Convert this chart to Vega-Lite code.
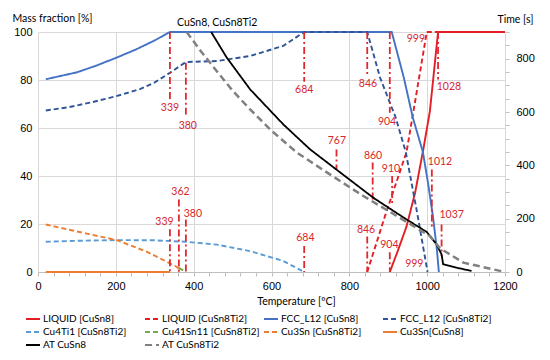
{
  "$schema": "https://vega.github.io/schema/vega-lite/v6.json",
  "width": 467,
  "height": 240,
  "autosize": {"type": "none"},
  "padding": {"left": 38, "top": 32, "right": 45, "bottom": 88},
  "background": "white",
  "config": {
    "view": {"stroke": null},
    "font": "Lato",
    "legend": {"labelFont": "Lato", "labelFontSize": 10, "labelColor": "#000", "gridAlign": "all"}
  },
  "title": {
    "text": "CuSn8, CuSn8Ti2",
    "anchor": "start",
    "frame": "group",
    "dx": 139,
    "dy": 19,
    "font": "Lato",
    "fontSize": 10.5,
    "fontWeight": "normal",
    "color": "#000"
  },
  "datasets": {
    "mass": [
      {"s": "LIQUID [CuSn8]", "T": 904, "v": 0},
      {"s": "LIQUID [CuSn8]", "T": 925, "v": 9},
      {"s": "LIQUID [CuSn8]", "T": 947, "v": 19},
      {"s": "LIQUID [CuSn8]", "T": 969, "v": 33},
      {"s": "LIQUID [CuSn8]", "T": 990, "v": 51},
      {"s": "LIQUID [CuSn8]", "T": 1007, "v": 67},
      {"s": "LIQUID [CuSn8]", "T": 1028, "v": 100},
      {"s": "LIQUID [CuSn8]", "T": 1200, "v": 100},
      {"s": "LIQUID [CuSn8Ti2]", "T": 846, "v": 0},
      {"s": "LIQUID [CuSn8Ti2]", "T": 891, "v": 23},
      {"s": "LIQUID [CuSn8Ti2]", "T": 947, "v": 50},
      {"s": "LIQUID [CuSn8Ti2]", "T": 971, "v": 73},
      {"s": "LIQUID [CuSn8Ti2]", "T": 999, "v": 100},
      {"s": "LIQUID [CuSn8Ti2]", "T": 1200, "v": 100},
      {"s": "FCC_L12 [CuSn8]", "T": 20, "v": 80.3},
      {"s": "FCC_L12 [CuSn8]", "T": 100, "v": 83.2},
      {"s": "FCC_L12 [CuSn8]", "T": 150, "v": 86},
      {"s": "FCC_L12 [CuSn8]", "T": 200, "v": 89.2},
      {"s": "FCC_L12 [CuSn8]", "T": 250, "v": 92.6},
      {"s": "FCC_L12 [CuSn8]", "T": 300, "v": 96.5},
      {"s": "FCC_L12 [CuSn8]", "T": 339, "v": 100},
      {"s": "FCC_L12 [CuSn8]", "T": 909, "v": 100},
      {"s": "FCC_L12 [CuSn8]", "T": 940, "v": 81},
      {"s": "FCC_L12 [CuSn8]", "T": 963, "v": 64.4},
      {"s": "FCC_L12 [CuSn8]", "T": 989, "v": 50},
      {"s": "FCC_L12 [CuSn8]", "T": 1002, "v": 37.3},
      {"s": "FCC_L12 [CuSn8]", "T": 1015, "v": 23},
      {"s": "FCC_L12 [CuSn8]", "T": 1025, "v": 9.4},
      {"s": "FCC_L12 [CuSn8]", "T": 1030, "v": 0},
      {"s": "FCC_L12 [CuSn8Ti2]", "T": 20, "v": 67.3},
      {"s": "FCC_L12 [CuSn8Ti2]", "T": 80, "v": 68.7},
      {"s": "FCC_L12 [CuSn8Ti2]", "T": 140, "v": 70.8},
      {"s": "FCC_L12 [CuSn8Ti2]", "T": 200, "v": 73.2},
      {"s": "FCC_L12 [CuSn8Ti2]", "T": 262, "v": 76.2},
      {"s": "FCC_L12 [CuSn8Ti2]", "T": 300, "v": 79},
      {"s": "FCC_L12 [CuSn8Ti2]", "T": 339, "v": 83},
      {"s": "FCC_L12 [CuSn8Ti2]", "T": 380, "v": 87.5},
      {"s": "FCC_L12 [CuSn8Ti2]", "T": 459, "v": 87.9},
      {"s": "FCC_L12 [CuSn8Ti2]", "T": 545, "v": 90},
      {"s": "FCC_L12 [CuSn8Ti2]", "T": 630, "v": 94.2},
      {"s": "FCC_L12 [CuSn8Ti2]", "T": 684, "v": 100},
      {"s": "FCC_L12 [CuSn8Ti2]", "T": 846, "v": 100},
      {"s": "FCC_L12 [CuSn8Ti2]", "T": 879, "v": 81},
      {"s": "FCC_L12 [CuSn8Ti2]", "T": 919, "v": 64.4},
      {"s": "FCC_L12 [CuSn8Ti2]", "T": 945, "v": 50},
      {"s": "FCC_L12 [CuSn8Ti2]", "T": 975, "v": 24},
      {"s": "FCC_L12 [CuSn8Ti2]", "T": 1001, "v": 0},
      {"s": "Cu4Ti1 [CuSn8Ti2]", "T": 20, "v": 12.6},
      {"s": "Cu4Ti1 [CuSn8Ti2]", "T": 100, "v": 13.0},
      {"s": "Cu4Ti1 [CuSn8Ti2]", "T": 200, "v": 13.3},
      {"s": "Cu4Ti1 [CuSn8Ti2]", "T": 300, "v": 13.2},
      {"s": "Cu4Ti1 [CuSn8Ti2]", "T": 380, "v": 12.6},
      {"s": "Cu4Ti1 [CuSn8Ti2]", "T": 460, "v": 11.4},
      {"s": "Cu4Ti1 [CuSn8Ti2]", "T": 545, "v": 8.7},
      {"s": "Cu4Ti1 [CuSn8Ti2]", "T": 630, "v": 4.6},
      {"s": "Cu4Ti1 [CuSn8Ti2]", "T": 684, "v": 0},
      {"s": "Cu41Sn11 [CuSn8Ti2]", "T": 362, "v": 1.7},
      {"s": "Cu41Sn11 [CuSn8Ti2]", "T": 380, "v": 0},
      {"s": "Cu3Sn [CuSn8Ti2]", "T": 20, "v": 19.8},
      {"s": "Cu3Sn [CuSn8Ti2]", "T": 125, "v": 16},
      {"s": "Cu3Sn [CuSn8Ti2]", "T": 202, "v": 13.3},
      {"s": "Cu3Sn [CuSn8Ti2]", "T": 279, "v": 8.5},
      {"s": "Cu3Sn [CuSn8Ti2]", "T": 356, "v": 2.2},
      {"s": "Cu3Sn [CuSn8Ti2]", "T": 362, "v": 1.5},
      {"s": "Cu3Sn [CuSn8Ti2]", "T": 362, "v": 0},
      {"s": "Cu3Sn[CuSn8]", "T": 20, "v": 0},
      {"s": "Cu3Sn[CuSn8]", "T": 339, "v": 0}
    ],
    "at": [
      {"s": "AT CuSn8", "T": 445, "t": 900},
      {"s": "AT CuSn8", "T": 485, "t": 804},
      {"s": "AT CuSn8", "T": 545, "t": 685},
      {"s": "AT CuSn8", "T": 630, "t": 554},
      {"s": "AT CuSn8", "T": 699, "t": 460},
      {"s": "AT CuSn8", "T": 750, "t": 403},
      {"s": "AT CuSn8", "T": 767, "t": 384},
      {"s": "AT CuSn8", "T": 862, "t": 278},
      {"s": "AT CuSn8", "T": 947, "t": 197},
      {"s": "AT CuSn8", "T": 999, "t": 150},
      {"s": "AT CuSn8", "T": 1024, "t": 104},
      {"s": "AT CuSn8", "T": 1037, "t": 66},
      {"s": "AT CuSn8", "T": 1041, "t": 29},
      {"s": "AT CuSn8", "T": 1076, "t": 16},
      {"s": "AT CuSn8", "T": 1114, "t": 4},
      {"s": "AT CuSn8Ti2", "T": 382, "t": 900},
      {"s": "AT CuSn8Ti2", "T": 420, "t": 825},
      {"s": "AT CuSn8Ti2", "T": 459, "t": 754},
      {"s": "AT CuSn8Ti2", "T": 500, "t": 680},
      {"s": "AT CuSn8Ti2", "T": 545, "t": 610},
      {"s": "AT CuSn8Ti2", "T": 600, "t": 530},
      {"s": "AT CuSn8Ti2", "T": 665, "t": 448},
      {"s": "AT CuSn8Ti2", "T": 750, "t": 366},
      {"s": "AT CuSn8Ti2", "T": 836, "t": 285},
      {"s": "AT CuSn8Ti2", "T": 922, "t": 210},
      {"s": "AT CuSn8Ti2", "T": 1007, "t": 135},
      {"s": "AT CuSn8Ti2", "T": 1033, "t": 89},
      {"s": "AT CuSn8Ti2", "T": 1093, "t": 35},
      {"s": "AT CuSn8Ti2", "T": 1200, "t": 0}
    ],
    "rules": [
      {"T": 339, "v": 100, "v2": 71},
      {"T": 380, "v": 87.2, "v2": 65.6},
      {"T": 684, "v": 100, "v2": 79.3},
      {"T": 846, "v": 100, "v2": 82.2},
      {"T": 904, "v": 100, "v2": 66.4},
      {"T": 1028, "v": 100, "v2": 80.2},
      {"T": 767, "v": 51, "v2": 42.5},
      {"T": 860, "v": 45.6, "v2": 30.2},
      {"T": 910, "v": 40, "v2": 28.2},
      {"T": 1012, "v": 42.7, "v2": 17.8},
      {"T": 1037, "v": 19.8, "v2": 6.7},
      {"T": 846, "v": 14.8, "v2": 0},
      {"T": 904, "v": 8.2, "v2": 0},
      {"T": 684, "v": 10.8, "v2": 0},
      {"T": 339, "v": 17.8, "v2": 0},
      {"T": 362, "v": 30.2, "v2": 0},
      {"T": 380, "v": 21.9, "v2": 0}
    ],
    "labels": [
      {"label": "339", "T": 339, "v": 68.4},
      {"label": "380", "T": 385, "v": 61},
      {"label": "684", "T": 684, "v": 76},
      {"label": "846", "T": 848, "v": 78.5},
      {"label": "904", "T": 897, "v": 62.3},
      {"label": "999", "T": 971, "v": 97.2},
      {"label": "1028", "T": 1056, "v": 77.2},
      {"label": "767", "T": 768, "v": 54.4},
      {"label": "860", "T": 861, "v": 48.3},
      {"label": "910", "T": 907, "v": 43},
      {"label": "1012", "T": 1033, "v": 45.8},
      {"label": "1037", "T": 1063, "v": 23.6},
      {"label": "846", "T": 843, "v": 17.3},
      {"label": "904", "T": 903, "v": 11.1},
      {"label": "999", "T": 967, "v": 3.5},
      {"label": "684", "T": 687, "v": 14.3},
      {"label": "339", "T": 325, "v": 21},
      {"label": "362", "T": 366, "v": 33.4},
      {"label": "380", "T": 398, "v": 24}
    ]
  },
  "encoding": {
    "x": {
      "field": "T",
      "type": "quantitative",
      "scale": {"domain": [0, 1200], "nice": false, "zero": false},
      "axis": {
        "values": [0,40,80,120,160,200,240,280,320,360,400,440,480,520,560,600,640,680,720,760,800,840,880,920,960,1000,1040,1080,1120,1160,1200],
        "format": "d",
        "labelExpr": "datum.value % 200 === 0 ? datum.label : ''",
        "labelOverlap": false,
        "labelFlush": false,
        "grid": true,
        "gridColor": "#d9d9d9",
        "gridOpacity": {"condition": {"test": "datum.value % 200 === 0", "value": 1}, "value": 0},
        "domainColor": "#bfbfbf",
        "tickColor": "#bfbfbf",
        "tickSize": 4,
        "labelPadding": 4,
        "labelFont": "Liberation Sans",
        "labelFontSize": 11,
        "labelColor": "#000",
        "title": "Temperature [ºC]",
        "titleFont": "Lato",
        "titleFontSize": 10.5,
        "titleFontWeight": "normal",
        "titleColor": "#000",
        "titleX": 258,
        "titleY": 29,
        "titleAlign": "center",
        "titleBaseline": "middle"
      }
    },
    "color": {
      "field": "s",
      "type": "nominal",
      "scale": {
        "domain": ["LIQUID [CuSn8]", "LIQUID [CuSn8Ti2]", "FCC_L12 [CuSn8]", "FCC_L12 [CuSn8Ti2]", "Cu4Ti1 [CuSn8Ti2]", "Cu41Sn11 [CuSn8Ti2]", "Cu3Sn [CuSn8Ti2]", "Cu3Sn[CuSn8]", "AT CuSn8", "AT CuSn8Ti2"],
        "range": ["#E31E24", "#E31E24", "#4472C4", "#2F5597", "#5B9BD5", "#70AD47", "#ED7D31", "#ED7D31", "#000000", "#808080"]
      },
      "legend": {
        "orient": "none",
        "legendX": -13,
        "legendY": 279,
        "direction": "horizontal",
        "columns": 4,
        "gridAlign": "all",
        "columnPadding": 0,
        "rowPadding": 0,
        "title": null,
        "symbolType": "stroke",
        "symbolSize": 196,
        "symbolStrokeWidth": 2,
        "labelOffset": 2,
        "labelFontSize": 10
      }
    },
    "strokeDash": {
      "field": "s",
      "type": "nominal",
      "scale": {
        "domain": ["LIQUID [CuSn8]", "LIQUID [CuSn8Ti2]", "FCC_L12 [CuSn8]", "FCC_L12 [CuSn8Ti2]", "Cu4Ti1 [CuSn8Ti2]", "Cu41Sn11 [CuSn8Ti2]", "Cu3Sn [CuSn8Ti2]", "Cu3Sn[CuSn8]", "AT CuSn8", "AT CuSn8Ti2"],
        "range": [[1, 0], [5, 3], [1, 0], [5, 3], [5, 3], [5, 3], [5, 3], [1, 0], [1, 0], [7, 4]]
      },
      "legend": {
        "orient": "none",
        "legendX": -13,
        "legendY": 279,
        "direction": "horizontal",
        "columns": 4,
        "gridAlign": "all",
        "columnPadding": 0,
        "rowPadding": 0,
        "title": null,
        "symbolType": "stroke",
        "symbolSize": 196,
        "symbolStrokeWidth": 2,
        "labelOffset": 2,
        "labelFontSize": 10
      }
    }
  },
  "layer": [
    {
      "encoding": {
        "y": {
          "field": "v",
          "type": "quantitative",
          "scale": {"domain": [0, 100], "nice": false},
          "axis": {
            "values": [0, 20, 40, 60, 80, 100],
            "grid": true,
            "gridColor": "#d9d9d9",
            "ticks": false,
            "domain": false,
            "labelPadding": 6,
            "labelFont": "Liberation Sans",
            "labelFontSize": 11,
            "labelColor": "#000",
            "title": "Mass fraction [%]",
            "titleFont": "Lato",
            "titleFontSize": 10.5,
            "titleFontWeight": "normal",
            "titleColor": "#000",
            "titleAngle": 0,
            "titleX": 14,
            "titleY": -14,
            "titleAlign": "center",
            "titleBaseline": "middle"
          }
        }
      },
      "layer": [
        {
          "data": {"name": "mass"},
          "mark": {"type": "line", "strokeWidth": 1.9},
          "encoding": {}
        },
        {
          "data": {"name": "rules"},
          "mark": {"type": "rule", "color": "#E0282E", "strokeWidth": 1.8, "strokeDash": [7, 3, 2, 3]},
          "encoding": {"y2": {"field": "v2"}, "color": {"value": "#E0282E"}, "strokeDash": {"value": [7, 3, 2, 3]}}
        },
        {
          "data": {"name": "labels"},
          "mark": {"type": "text", "font": "Lato", "fontSize": 10.5, "align": "center", "baseline": "middle"},
          "encoding": {"text": {"field": "label"}, "color": {"value": "#D7262C"}, "strokeDash": {"value": [1, 0]}}
        }
      ]
    },
    {
      "data": {"name": "at"},
      "mark": {"type": "line"},
      "encoding": {
        "strokeWidth": {
          "field": "s",
          "type": "nominal",
          "scale": {"domain": ["AT CuSn8", "AT CuSn8Ti2"], "range": [1.8, 2.5]},
          "legend": null
        },
        "y": {
          "field": "t",
          "type": "quantitative",
          "scale": {"domain": [0, 900], "nice": false},
          "axis": {
            "orient": "right",
            "values": [0,50,100,150,200,250,300,350,400,450,500,550,600,650,700,750,800,850,900],
            "labelExpr": "datum.value % 200 === 0 ? datum.label : ''",
            "labelOverlap": false,
            "grid": false,
            "domainColor": "#d9d9d9",
            "tickColor": "#bfbfbf",
            "tickSize": 4,
            "labelPadding": 7,
            "labelFont": "Liberation Sans",
            "labelFontSize": 11,
            "labelColor": "#000",
            "title": "Time [s]",
            "titleFont": "Lato",
            "titleFontSize": 10.5,
            "titleFontWeight": "normal",
            "titleColor": "#000",
            "titleAngle": 0,
            "titleX": 10,
            "titleY": -13,
            "titleAlign": "center",
            "titleBaseline": "middle"
          }
        }
      }
    }
  ],
  "resolve": {"scale": {"y": "independent"}}
}
